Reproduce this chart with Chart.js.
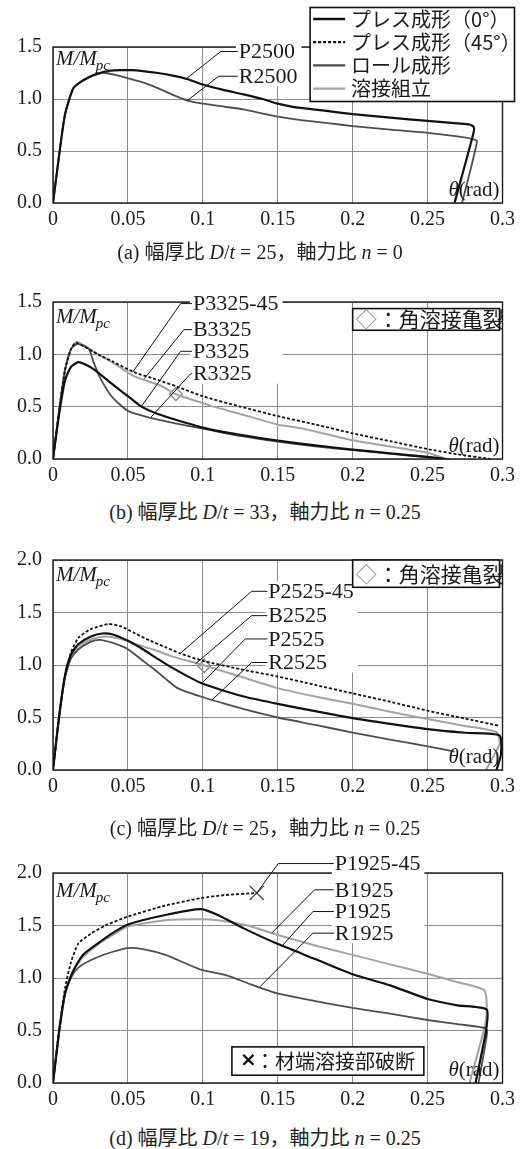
<!DOCTYPE html>
<html lang="ja">
<head>
<meta charset="utf-8"/>
<title>M/Mpc – θ 関係</title>
<script src="https://cdn.jsdelivr.net/npm/chart.js@4"></script>
<style>
  body { margin: 0; background: #fff; width: 520px; height: 1149px; position: relative; overflow: hidden; }
  canvas { position: absolute; left: 0; }
  .cap { position: absolute; left: 0; width: 530px; text-align: center; line-height: 24px;
         font: 20px "Liberation Serif", "Noto Sans CJK JP", serif; color: #222; white-space: pre; }
</style>
</head>
<body>
<canvas id="ca" width="520" height="233" style="top:0px"></canvas>
<canvas id="cb" width="520" height="229" style="top:260px"></canvas>
<canvas id="cc" width="520" height="270" style="top:530px"></canvas>
<canvas id="cd" width="520" height="273" style="top:840px"></canvas>
<div class="cap" style="top:236px;left:-5px">(a) 幅厚比 <i>D</i>/<i>t</i> = 25，軸力比 <i>n</i> = 0</div>
<div class="cap" style="top:496px">(b) 幅厚比 <i>D</i>/<i>t</i> = 33，軸力比 <i>n</i> = 0.25</div>
<div class="cap" style="top:812px">(c) 幅厚比 <i>D</i>/<i>t</i> = 25，軸力比 <i>n</i> = 0.25</div>
<div class="cap" style="top:1122px">(d) 幅厚比 <i>D</i>/<i>t</i> = 19，軸力比 <i>n</i> = 0.25</div>

<script>
// ---- data: [θ (rad), M/Mpc] ----

// (a) D/t = 25, n = 0
const P2500 = [[0,0],[0.004,0.45],[0.008,0.85],[0.0134,1.10],[0.018,1.16],[0.024,1.21],[0.03,1.245],[0.038,1.272],
  [0.045,1.278],[0.052,1.277],[0.06,1.268],[0.07,1.25],[0.08,1.225],[0.09,1.19],[0.1,1.14],[0.113,1.09],[0.127,1.045],
  [0.14,1.0],[0.15,0.955],[0.16,0.925],[0.18,0.89],[0.2,0.855],[0.225,0.82],[0.25,0.79],[0.27,0.765],[0.278,0.755],
  [0.2808,0.73],[0.2806,0.67],[0.268,0]];
const R2500 = [[0,0],[0.004,0.45],[0.008,0.85],[0.0134,1.10],[0.018,1.16],[0.024,1.21],[0.03,1.24],[0.035,1.25],
  [0.045,1.22],[0.055,1.18],[0.061,1.155],[0.07,1.105],[0.08,1.04],[0.09,0.985],[0.1,0.955],[0.115,0.925],[0.127,0.90],
  [0.14,0.86],[0.15,0.83],[0.167,0.795],[0.185,0.765],[0.2,0.74],[0.225,0.705],[0.25,0.675],[0.27,0.64],[0.2795,0.617],
  [0.283,0.594],[0.273,0]];

// (b) D/t = 33, n = 0.25
const P3325_45 = [[0,0],[0.004,0.45],[0.008,0.85],[0.012,1.05],[0.015,1.11],[0.02,1.08],[0.03,1.0],[0.04,0.93],
  [0.054,0.83],[0.07,0.755],[0.083,0.69],[0.1,0.60],[0.125,0.50],[0.15,0.41],[0.175,0.33],[0.2,0.245],[0.225,0.17],
  [0.25,0.095],[0.27,0.045],[0.292,0]];
const B3325 = [[0,0],[0.004,0.45],[0.008,0.85],[0.012,1.05],[0.016,1.12],[0.02,1.09],[0.03,1.0],[0.04,0.92],
  [0.053,0.80],[0.062,0.75],[0.072,0.70],[0.082,0.62],[0.09,0.58],[0.105,0.51],[0.125,0.43],[0.15,0.33],[0.167,0.29],
  [0.2,0.18],[0.225,0.12],[0.25,0.06],[0.266,-0.02]];
const P3325 = [[0,0],[0.004,0.42],[0.008,0.75],[0.012,0.88],[0.017,0.925],[0.022,0.9],[0.028,0.85],[0.04,0.71],
  [0.05,0.60],[0.059,0.50],[0.07,0.43],[0.083,0.37],[0.1,0.30],[0.125,0.23],[0.15,0.175],[0.175,0.13],[0.2,0.09],
  [0.225,0.055],[0.25,0.02],[0.262,0]];
const R3325 = [[0,0],[0.004,0.45],[0.008,0.85],[0.012,1.05],[0.016,1.10],[0.02,1.085],[0.024,1.05],[0.027,0.93],
  [0.031,0.79],[0.039,0.60],[0.05,0.46],[0.066,0.39],[0.08,0.345],[0.1,0.29],[0.125,0.22],[0.15,0.165],[0.175,0.12],
  [0.2,0.085],[0.225,0.05],[0.25,0.015],[0.265,0]];
const crack3325 = [[0.082, 0.62]];

// (c) D/t = 25, n = 0.25
const P2525_45 = [[0,0],[0.004,0.5],[0.008,0.9],[0.012,1.12],[0.017,1.26],[0.025,1.34],[0.037,1.39],[0.045,1.37],
  [0.055,1.30],[0.065,1.23],[0.075,1.17],[0.085,1.11],[0.1,1.04],[0.125,0.96],[0.15,0.89],[0.175,0.81],[0.2,0.73],
  [0.225,0.65],[0.25,0.565],[0.275,0.49],[0.298,0.42]];
const B2525 = [[0,0],[0.004,0.5],[0.008,0.88],[0.012,1.08],[0.017,1.18],[0.025,1.24],[0.033,1.27],[0.045,1.25],
  [0.055,1.2],[0.0675,1.145],[0.08,1.08],[0.1,1.0],[0.125,0.89],[0.15,0.78],[0.175,0.70],[0.2,0.63],[0.225,0.555],
  [0.25,0.485],[0.275,0.42],[0.296,0.36],[0.298,0.25],[0.289,0]];
const P2525 = [[0,0],[0.004,0.5],[0.008,0.9],[0.012,1.1],[0.017,1.2],[0.025,1.27],[0.033,1.30],[0.04,1.29],
  [0.05,1.23],[0.06,1.15],[0.0675,1.08],[0.08,0.97],[0.0985,0.83],[0.115,0.75],[0.13,0.69],[0.15,0.63],[0.175,0.56],
  [0.2,0.494],[0.225,0.44],[0.25,0.39],[0.275,0.355],[0.298,0.33],[0.299,0.15],[0.296,0]];
const R2525 = [[0,0],[0.004,0.5],[0.008,0.88],[0.012,1.06],[0.017,1.15],[0.025,1.22],[0.031,1.24],[0.04,1.21],
  [0.05,1.15],[0.06,1.04],[0.0675,0.96],[0.075,0.87],[0.083,0.78],[0.0985,0.70],[0.115,0.63],[0.13,0.57],[0.15,0.50],
  [0.175,0.43],[0.2,0.356],[0.225,0.29],[0.25,0.225],[0.268,0.175]];
const crack2525 = [[0.101, 0.99]];

// (d) D/t = 19, n = 0.25
const P1925_45 = [[0,0],[0.004,0.5],[0.008,0.9],[0.012,1.15],[0.017,1.33],[0.025,1.42],[0.035,1.5],[0.05,1.585],
  [0.075,1.69],[0.0986,1.76],[0.115,1.79],[0.136,1.81]];
const P1925 = [[0,0],[0.004,0.48],[0.008,0.85],[0.012,1.02],[0.015,1.11],[0.02,1.22],[0.03,1.33],[0.04,1.43],
  [0.05,1.51],[0.075,1.60],[0.0986,1.656],[0.11,1.6],[0.127,1.475],[0.149,1.33],[0.175,1.18],[0.2,1.035],[0.225,0.93],
  [0.25,0.80],[0.27,0.74],[0.2894,0.70],[0.289,0.5],[0.282,0]];
const B1925 = [[0,0],[0.004,0.48],[0.008,0.85],[0.012,1.02],[0.015,1.1],[0.02,1.2],[0.03,1.32],[0.04,1.41],
  [0.05,1.49],[0.075,1.55],[0.0986,1.56],[0.11,1.55],[0.13,1.5],[0.15,1.41],[0.175,1.31],[0.2,1.22],[0.225,1.13],
  [0.25,1.04],[0.27,0.96],[0.288,0.88],[0.289,0.6],[0.278,0]];
const R1925 = [[0,0],[0.004,0.48],[0.008,0.85],[0.012,1.0],[0.015,1.07],[0.02,1.13],[0.03,1.2],[0.04,1.25],
  [0.05,1.285],[0.06,1.275],[0.075,1.22],[0.0986,1.08],[0.115,1.03],[0.13,0.95],[0.149,0.855],[0.175,0.78],
  [0.2,0.715],[0.225,0.66],[0.25,0.60],[0.27,0.56],[0.289,0.52],[0.2895,0.45],[0.284,0]];
const fracture1925 = [[0.136, 1.81]];

// legend texts
const formNames = ['プレス成形（0°）', 'プレス成形（45°）', 'ロール成形', '溶接組立'];
const formKinds = ['P', 'P45', 'R', 'B'];
const crackText = '：角溶接亀裂';
const fractureText = '：材端溶接部破断';

// ---- styles ----
const STYLE = {
  P:   { color: '#111111', width: 2.2, dash: [] },
  P45: { color: '#111111', width: 1.8, dash: [3, 2] },
  R:   { color: '#4d4d4d', width: 1.8, dash: [] },
  B:   { color: '#a3a3a3', width: 2.0, dash: [] }
};
const FONT = '"Liberation Serif", "Times New Roman", serif';
const CJK = '"Noto Sans CJK JP", sans-serif';

Chart.defaults.font.family = FONT;
Chart.defaults.font.size = 20;
Chart.defaults.color = '#1a1a1a';

// leader-line labels: text left/middle, elbow θ, curve point (all in data units)
const PANELS = [
  { id: 'ca', padTop: 47, yMax: 1.5, titleDy: 18,
    series: [[P2500, 'P'], [R2500, 'R']], markers: [],
    labels: [
      { text: 'P2500', at: [0.124, 1.457], elbow: 0.112, to: [0.0885, 1.19] },
      { text: 'R2500', at: [0.124, 1.219], elbow: 0.1106, to: [0.0896, 0.985] }],
    legend: { type: 'forms', box: [0.1716, 0.308, 1.88, 0.976] } },
  { id: 'cb', padTop: 42, yMax: 1.5, titleDy: 21,
    series: [[P3325, 'P'], [P3325_45, 'P45'], [R3325, 'R'], [B3325, 'B']],
    markers: [[crack3325, 'crack']],
    labels: [
      { text: 'P3325-45', at: [0.0934, 1.485], elbow: 0.0852, to: [0.0532, 0.83] },
      { text: 'B3325', at: [0.0934, 1.236], elbow: 0.0874, to: [0.0609, 0.767] },
      { text: 'P3325', at: [0.0934, 1.029], elbow: 0.0852, to: [0.0587, 0.496] },
      { text: 'R3325', at: [0.0934, 0.815], elbow: 0.0919, to: [0.0654, 0.40] }],
    legend: { type: 'crack', box: [0.2, 0.298, 1.437, 1.23] } },
  { id: 'cc', padTop: 30, yMax: 2.0, titleDy: 21,
    series: [[P2525, 'P'], [P2525_45, 'P45'], [R2525, 'R'], [B2525, 'B']],
    markers: [[crack2525, 'crack']],
    labels: [
      { text: 'P2525-45', at: [0.1437, 1.702], elbow: 0.1326, to: [0.0852, 1.114] },
      { text: 'B2525', at: [0.1437, 1.47], elbow: 0.1326, to: [0.0952, 1.012] },
      { text: 'P2525', at: [0.1437, 1.248], elbow: 0.1283, to: [0.0995, 0.828] },
      { text: 'R2525', at: [0.1437, 1.024], elbow: 0.1326, to: [0.1062, 0.668] }],
    legend: { type: 'crack', box: [0.2, 0.298, 2.0, 1.74] } },
  { id: 'cd', padTop: 33, yMax: 2.0, titleDy: 24,
    series: [[P1925, 'P'], [P1925_45, 'P45'], [R1925, 'R'], [B1925, 'B']],
    markers: [[fracture1925, 'fracture']],
    labels: [
      { text: 'P1925-45', at: [0.1881, 2.09], elbow: 0.1503, to: [0.136, 1.81] },
      { text: 'B1925', at: [0.1881, 1.84], elbow: 0.1746, to: [0.1459, 1.427] },
      { text: 'P1925', at: [0.1881, 1.633], elbow: 0.1735, to: [0.1525, 1.299] },
      { text: 'R1925', at: [0.1881, 1.427], elbow: 0.1735, to: [0.1382, 0.917] }],
    legend: { type: 'fracture', box: [0.1194, 0.2475, 0.344, 0.074] } }
];

const toXY = pts => pts.map(([t, m]) => ({ x: t, y: m }));

function drawLabels(ctx, x, y, labels) {
  ctx.font = '22px ' + FONT;
  const items = labels.map(l => ({
    l, px: x.getPixelForValue(l.at[0]), py: y.getPixelForValue(l.at[1]),
    w: ctx.measureText(l.text).width
  }));
  // white patch behind the label stack (hides grid lines there)
  const x0 = Math.min(...items.map(i => i.px)) - 3;
  const x1 = Math.max(...items.map(i => i.px + i.w)) + 4;
  const y0 = Math.min(...items.map(i => i.py)) - 10;
  const y1 = Math.max(...items.map(i => i.py)) + 10;
  ctx.fillStyle = '#fff';
  ctx.fillRect(x0, y0, x1 - x0, y1 - y0);
  ctx.strokeStyle = '#111'; ctx.lineWidth = 1; ctx.setLineDash([]);
  items.forEach(i => {
    ctx.beginPath();
    ctx.moveTo(x.getPixelForValue(i.l.to[0]), y.getPixelForValue(i.l.to[1]));
    ctx.lineTo(x.getPixelForValue(i.l.elbow), i.py);
    ctx.lineTo(i.px - 1, i.py);
    ctx.stroke();
  });
  ctx.fillStyle = '#1a1a1a'; ctx.textAlign = 'left'; ctx.textBaseline = 'middle';
  items.forEach(i => ctx.fillText(i.l.text, i.px, i.py + 1));
}

function drawLegend(ctx, x, y, lg) {
  const L = x.getPixelForValue(lg.box[0]), R = x.getPixelForValue(lg.box[1]);
  const T = y.getPixelForValue(lg.box[2]), B = y.getPixelForValue(lg.box[3]);
  ctx.setLineDash([]);
  ctx.fillStyle = '#fff'; ctx.fillRect(L, T, R - L, B - T);
  ctx.strokeStyle = '#111'; ctx.lineWidth = 1.6; ctx.strokeRect(L, T, R - L, B - T);
  ctx.textAlign = 'left'; ctx.textBaseline = 'middle';
  const cy = (T + B) / 2;
  if (lg.type === 'forms') {
    formNames.forEach((name, i) => {
      const yy = T + 11.5 + i * 23.2;
      const st = STYLE[formKinds[i]];
      ctx.beginPath(); ctx.setLineDash(st.dash);
      ctx.strokeStyle = st.color; ctx.lineWidth = st.width + 0.4;
      ctx.moveTo(L + 3, yy); ctx.lineTo(L + 35, yy); ctx.stroke();
      ctx.setLineDash([]);
      ctx.font = '20px ' + CJK; ctx.fillStyle = '#1a1a1a';
      ctx.fillText(name, L + 41, yy);
    });
  } else if (lg.type === 'crack') {
    ctx.font = '21px ' + CJK;
    ctx.fillStyle = '#8a8a8a'; ctx.fillText('◇', L + 3, cy);
    ctx.fillStyle = '#1a1a1a'; ctx.fillText(crackText, L + 25, cy);
  } else {
    ctx.font = 'bold 20px "DejaVu Sans"';
    ctx.fillStyle = '#111'; ctx.fillText('×', L + 8, cy);
    ctx.font = '20px ' + CJK; ctx.fillStyle = '#1a1a1a';
    ctx.fillText(fractureText, L + 23, cy);
  }
}

function overlay(p) {
  return {
    id: 'overlay',
    afterDatasetsDraw(chart) {
      const { ctx, chartArea: a, scales: { x, y } } = chart;
      ctx.save();
      ctx.strokeStyle = '#1a1a1a'; ctx.lineWidth = 1.4;
      ctx.strokeRect(a.left, a.top, a.right - a.left, a.bottom - a.top);
      drawLabels(ctx, x, y, p.labels);
      drawLegend(ctx, x, y, p.legend);
      // axis titles
      ctx.fillStyle = '#1a1a1a'; ctx.textBaseline = 'alphabetic'; ctx.textAlign = 'left';
      ctx.font = 'italic 21px ' + FONT;
      const mx = a.left + 3, my = a.top + p.titleDy;
      ctx.fillText('M/M', mx, my);
      const w = ctx.measureText('M/M').width;
      ctx.font = 'italic 15px ' + FONT;
      ctx.fillText('pc', mx + w - 1, my + 5);
      ctx.font = '21px ' + FONT;
      const wr = ctx.measureText('(rad)').width;
      ctx.textAlign = 'right';
      ctx.fillText('(rad)', a.right - 3, a.bottom - 7);
      ctx.font = 'italic 21px ' + FONT;
      ctx.fillText('θ', a.right - 3 - wr, a.bottom - 7);
      ctx.restore();
    }
  };
}

function makePanel(p) {
  const datasets = p.series.map(([pts, kind]) => ({
    data: toXY(pts),
    borderColor: STYLE[kind].color,
    borderWidth: STYLE[kind].width,
    borderDash: STYLE[kind].dash,
    pointRadius: 0, tension: 0.2, fill: false
  }));
  p.markers.forEach(([pts, kind]) => datasets.push({
    data: toXY(pts), showLine: false,
    pointStyle: kind === 'crack' ? 'rectRot' : 'crossRot',
    pointRadius: kind === 'crack' ? 6.5 : 10,
    pointBorderColor: kind === 'crack' ? '#8a8a8a' : '#4a4a4a',
    pointBackgroundColor: 'rgba(0,0,0,0)',
    pointBorderWidth: 1.4
  }));
  new Chart(document.getElementById(p.id), {
    type: 'line',
    data: { datasets },
    options: {
      responsive: false, animation: false, events: [],
      layout: { padding: { top: p.padTop, right: 14, left: 0, bottom: 0 } },
      plugins: { legend: { display: false }, tooltip: { enabled: false } },
      scales: {
        x: {
          type: 'linear', min: 0, max: 0.3,
          afterFit: s => { s.height = 30; },
          grid: { color: '#8c8c8c', lineWidth: 1, drawTicks: false },
          border: { display: false },
          ticks: { stepSize: 0.05, padding: 5, maxRotation: 0, autoSkip: false,
                   callback: v => String(+v.toFixed(2)) }
        },
        y: {
          type: 'linear', min: 0, max: p.yMax,
          afterFit: s => { s.width = 53; },
          grid: { color: '#8c8c8c', lineWidth: 1, drawTicks: false },
          border: { display: false },
          ticks: { stepSize: 0.5, padding: 11, callback: v => v.toFixed(1) }
        }
      }
    },
    plugins: [overlay(p)]
  });
}

PANELS.forEach(makePanel);
</script>
</body>
</html>
